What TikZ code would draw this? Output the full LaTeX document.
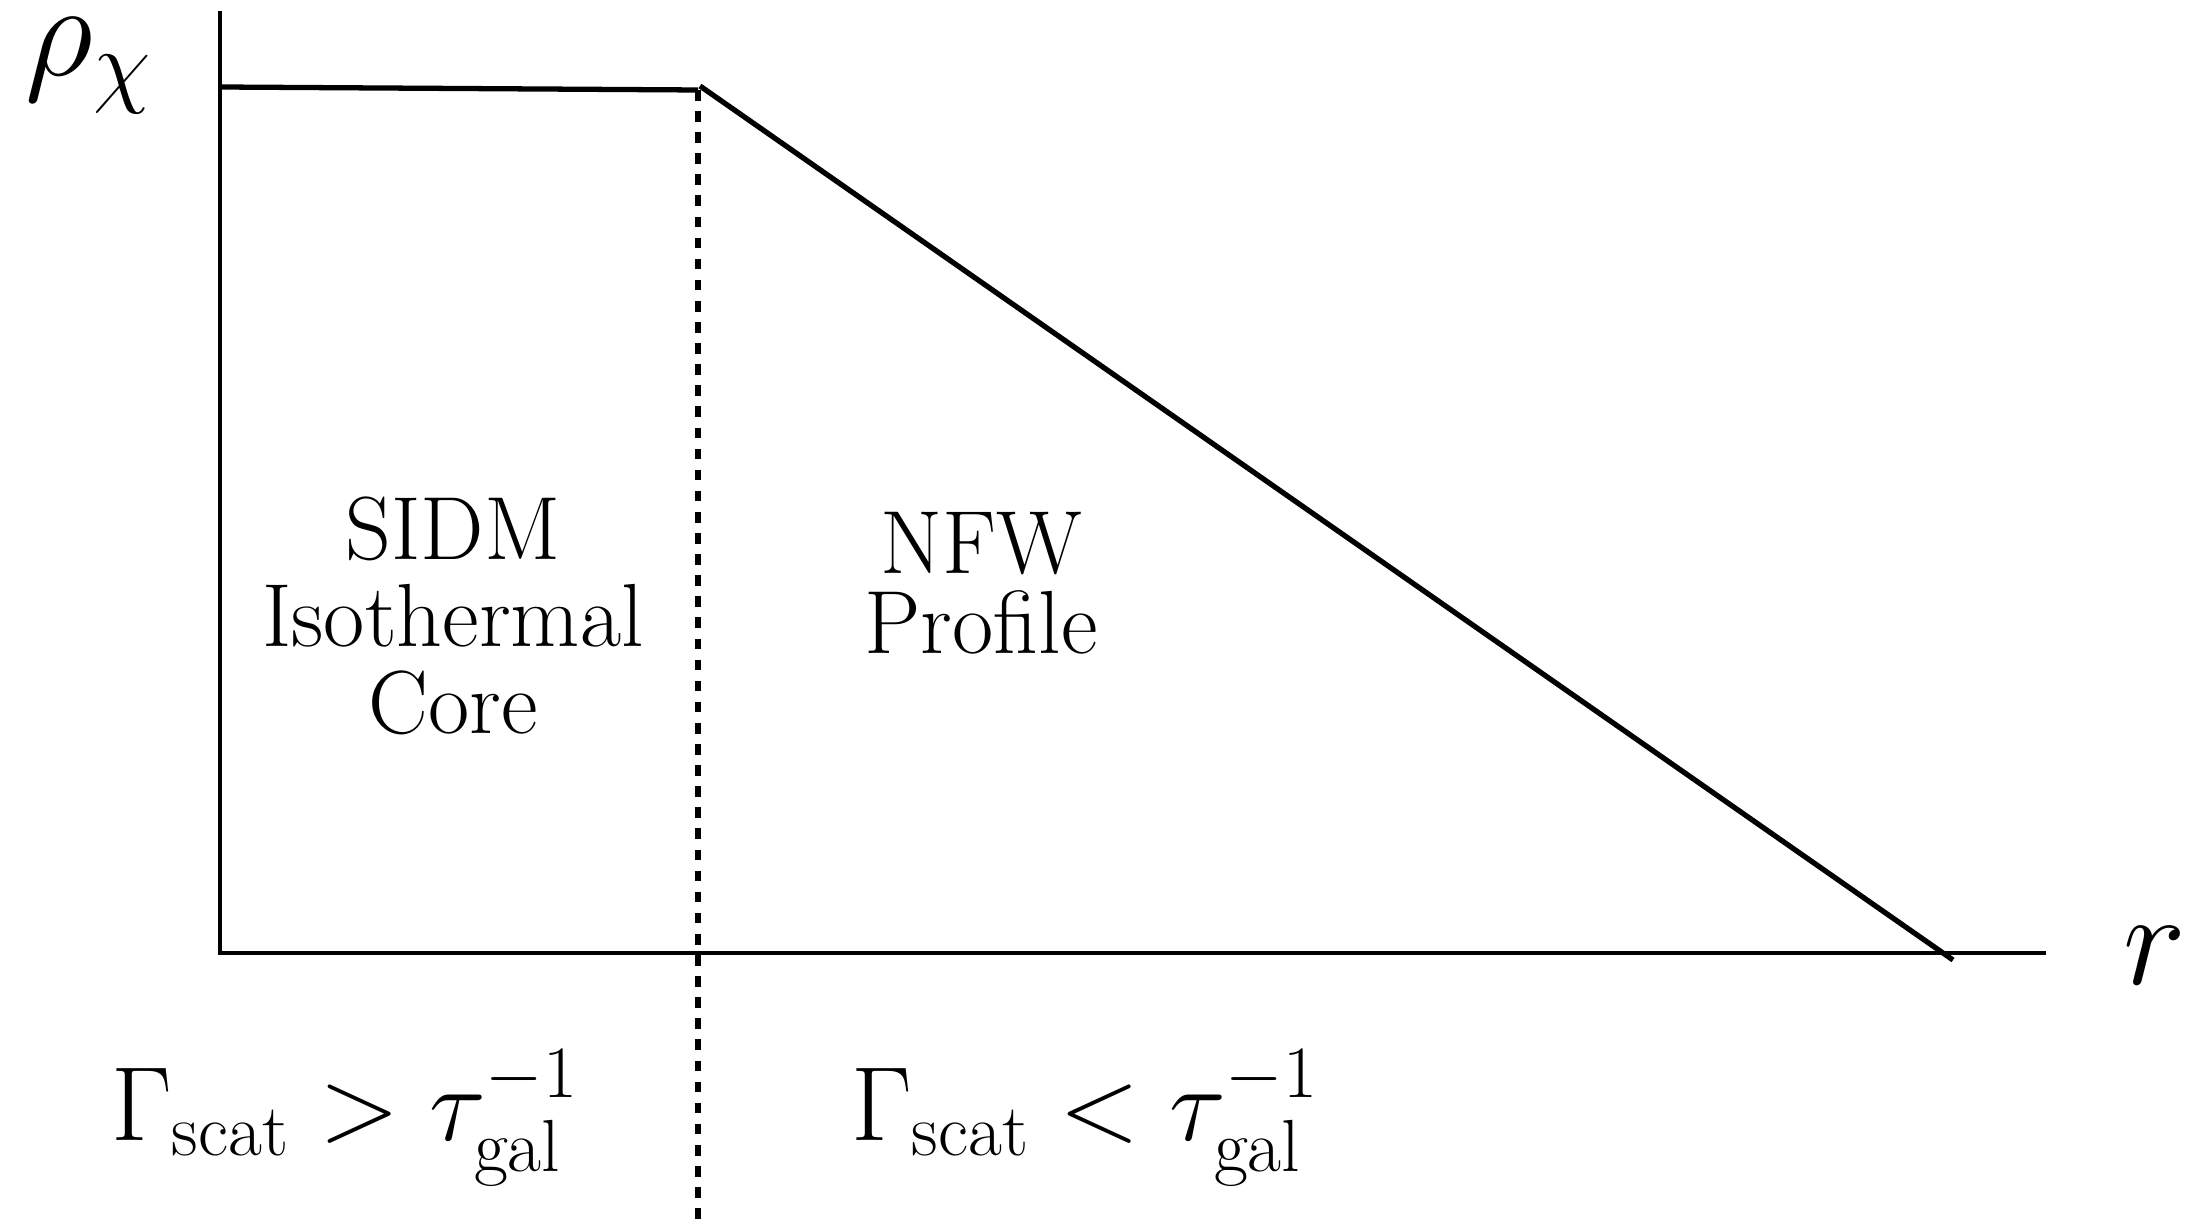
\RequirePackage{fix-cm}
\documentclass[tikz,border=0pt]{standalone}
\usepackage{amsmath, amssymb}
\usepackage{tikz}
\usetikzlibrary{positioning, calc}
\tikzset{
  axisline/.style={line width=1.4pt, line cap=rect},
  profile/.style={line width=1.5pt},
  divider/.style={line width=1.6pt, dash pattern=on 3pt off 3pt},
  regionlabel/.style={align=center, inner sep=0pt, font=\fontsize{25.5}{24.7}\selectfont},
  condlabel/.style={inner sep=0pt, font=\fontsize{30}{33}\selectfont},
  axislabel/.style={inner sep=0pt, font=\fontsize{38}{42}\selectfont},
}
\begin{document}
\begin{tikzpicture}[x=0.01cm, y=-0.01cm]
  \useasboundingbox (0,0) rectangle (2203,1225);

  % axes
  \coordinate (origin) at (220,953);
  \coordinate (ytop) at (220,13);
  \coordinate (xend) at (2044,953);
  \draw[axisline] (origin) -- (ytop);
  \draw[axisline] (origin) -- (xend);

  % density profile
  \coordinate (core0) at (220,87);
  \coordinate (core1) at (698,90);
  \coordinate (nfw0) at (700,86);
  \coordinate (nfw1) at (1953,960);
  \coordinate (divbot) at (698,1225);
  \draw[profile] (core0) -- (core1);
  \draw[profile] (nfw0) -- (nfw1);
  \draw[divider] (core1) -- (divbot);

  % labels
  \node (rho) [axislabel] at (89,66) {$\rho_\chi$};
  \node (rr) [axislabel, anchor=base] at (2155,984) {$r$};
  \node (sidm) [regionlabel, anchor=base] at (453,733) {SIDM\\Isothermal\\Core};
  \node (nfw) [regionlabel, anchor=base] at (981,653) {NFW\\[-2pt]Profile};
  \node (fast) [condlabel, anchor=base] at (345,1140) {$\Gamma_{\text{scat}} > \tau_{\text{gal}}^{-1}$};
  \node (slow) [condlabel, anchor=base] at (1085,1140) {$\Gamma_{\text{scat}} < \tau_{\text{gal}}^{-1}$};
\end{tikzpicture}
\end{document}
